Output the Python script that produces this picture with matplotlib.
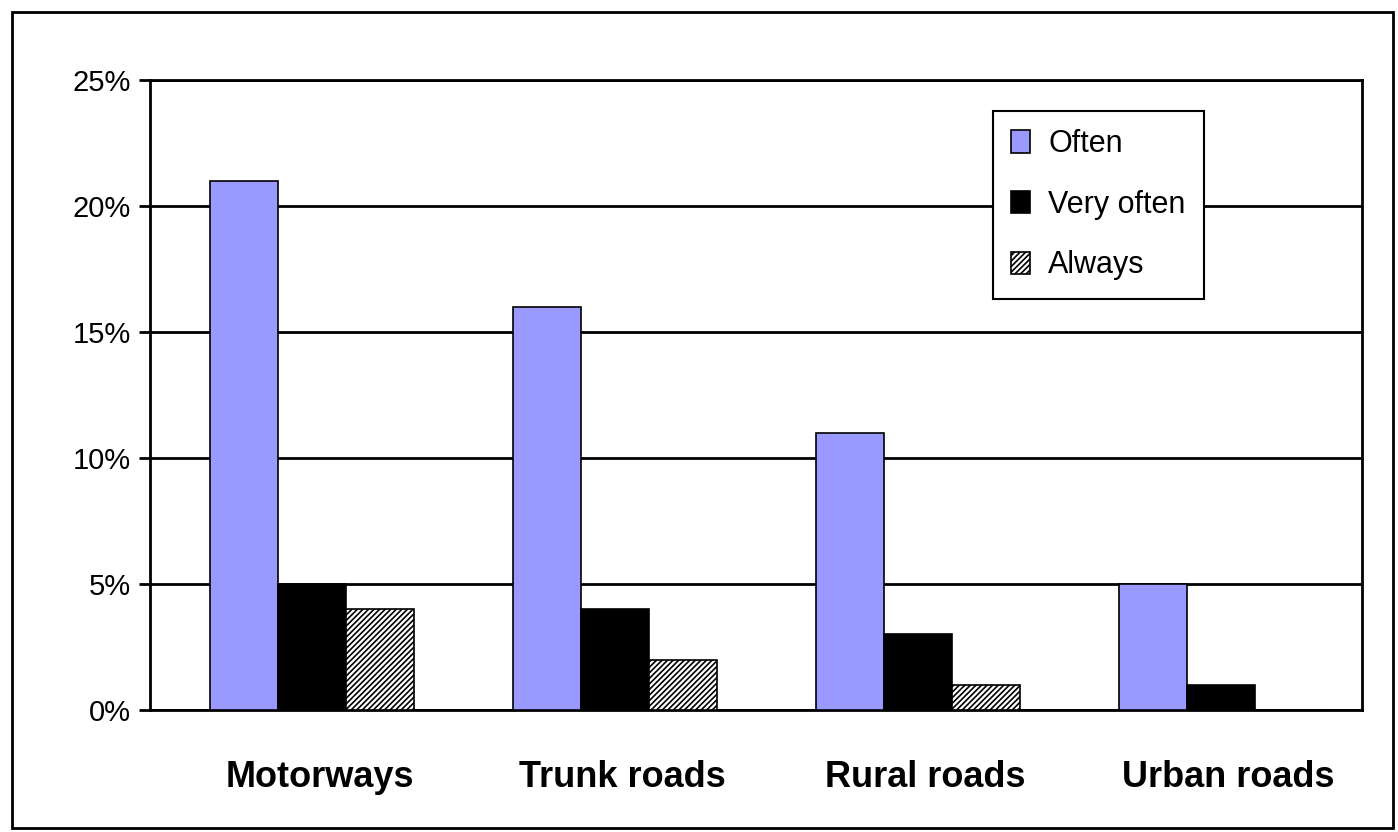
import matplotlib.pyplot as plt
from matplotlib.patches import Rectangle
import numpy as np

categories = ['Motorways', 'Trunk roads', 'Rural roads', 'Urban roads']
often = [21, 16, 11, 5]
very_often = [5, 4, 3, 1]
always = [4, 2, 1, 0]
yticks = [0, 5, 10, 15, 20, 25]

plt.rcParams['font.family'] = ['Liberation Sans', 'DejaVu Sans']
plt.rcParams['hatch.color'] = '#555555'
plt.rcParams['hatch.linewidth'] = 1.2

fig = plt.figure(figsize=(13.98, 8.32), dpi=100)
ax = fig.add_axes([150 / 1398, 1 - 710 / 832, 1212 / 1398, 630 / 832])

x = np.arange(len(categories)) + 0.035
w = 0.225
ax.bar(x - w, often, w, color='#9999ff', edgecolor='black', linewidth=1.2, label='Often', zorder=3)
ax.bar(x, very_often, w, color='black', edgecolor='black', linewidth=1.2, label='Very often', zorder=3)
ax.bar(x + w, always, w, color='white', edgecolor='black', linewidth=1.2, hatch='//////',
       label='Always', zorder=3)

ax.set_xlim(-0.5, 3.5)
ax.set_ylim(0, 25)
ax.set_yticks(yticks)
ax.set_yticklabels([f'{v}%' for v in yticks], fontsize=21)
ax.set_xticks(np.arange(len(categories)) + 0.06)
ax.set_xticklabels(categories, fontsize=26, fontweight='bold')
ax.tick_params(axis='x', length=0, pad=36)
ax.tick_params(axis='y', length=8, width=2, direction='out', pad=6)
ax.yaxis.grid(True, color='black', linewidth=2, zorder=0)
for s in ax.spines.values():
    s.set_linewidth(2)

leg = ax.legend(loc='upper left', bbox_to_anchor=((993 - 150) / 1212, (710 - 111) / 630),
                fontsize=22, frameon=True, fancybox=False, edgecolor='black',
                handlelength=0.6, handleheight=0.75, handletextpad=0.6, labelspacing=1.0,
                borderpad=0.6, borderaxespad=0)
leg.get_frame().set_linewidth(1.5)
leg.get_frame().set_alpha(1)

fig.patches.append(Rectangle((12 / 1398, 4 / 832), 1381 / 1398, 816 / 832, transform=fig.transFigure,
                             fill=False, edgecolor='black', linewidth=2))

plt.savefig('out.png', dpi=100)
